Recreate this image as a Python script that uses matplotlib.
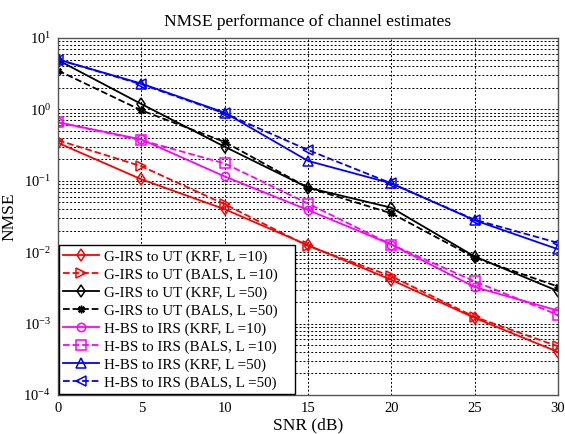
import matplotlib
matplotlib.use("Agg")
import matplotlib.pyplot as plt
import numpy as np

plt.rcParams['font.family'] = ['Liberation Serif', 'DejaVu Serif']
plt.rcParams['mathtext.fontset'] = 'custom'
plt.rcParams['mathtext.rm'] = 'Liberation Serif'
plt.rcParams['mathtext.it'] = 'Liberation Serif:italic'

snr_db = [0, 5, 10, 15, 20, 25, 30]

g_krf_l10 = [0.34, 0.105, 0.040, 0.0125, 0.0041, 0.00120, 0.00040]
g_bals_l10 = [0.37, 0.160, 0.047, 0.0122, 0.0046, 0.00124, 0.00048]
g_krf_l50 = [4.9, 1.19, 0.30, 0.080, 0.042, 0.0087, 0.00285]
g_bals_l50 = [3.5, 0.97, 0.35, 0.080, 0.035, 0.0084, 0.00330]
h_krf_l10 = [0.66, 0.38, 0.115, 0.039, 0.0128, 0.00325, 0.00152]
h_bals_l10 = [0.66, 0.37, 0.175, 0.048, 0.0128, 0.00390, 0.00132]
h_krf_l50 = [5.0, 2.30, 0.90, 0.190, 0.092, 0.0280, 0.0110]
h_bals_l50 = [5.0, 2.25, 0.88, 0.270, 0.092, 0.0285, 0.0135]

# marker: (symbol, size)
series = [
    (g_krf_l10, 'G-IRS to UT (KRF, L =10)', 'red', '-', 'd', 6.5),
    (g_bals_l10, 'G-IRS to UT (BALS, L =10)', 'red', '--', '>', 6.5),
    (g_krf_l50, 'G-IRS to UT (KRF, L =50)', 'black', '-', 'd', 6.5),
    (g_bals_l50, 'G-IRS to UT (BALS, L =50)', 'black', '--', (8, 2, 0), 5.5),
    (h_krf_l10, 'H-BS to IRS (KRF, L =10)', 'magenta', '-', 'o', 6),
    (h_bals_l10, 'H-BS to IRS (BALS, L =10)', 'magenta', '--', 's', 6.5),
    (h_krf_l50, 'H-BS to IRS (KRF, L =50)', 'blue', '-', '^', 6.5),
    (h_bals_l50, 'H-BS to IRS (BALS, L =50)', 'blue', '--', '<', 6.5),
]

fig = plt.figure(figsize=(5.65, 4.34), dpi=100)
ax = fig.add_axes([0.1027, 0.0899, 0.885, 0.8225])

for vals, label, color, ls, mk, ms in series:
    ax.semilogy(snr_db, vals, color=color, linestyle=ls, marker=mk,
                markerfacecolor='none', markeredgecolor=color,
                markersize=ms, linewidth=1.3, markeredgewidth=1.1, label=label)

ax.set_xlim(0, 30)
ax.set_ylim(1e-4, 1e1)
ax.set_xticks([0, 5, 10, 15, 20, 25, 30])
ax.set_yticks([1e-4, 1e-3, 1e-2, 1e-1, 1e0, 1e1])
ax.tick_params(axis='both', labelsize=10.5, direction='in', length=0, pad=5)
ax.grid(True, which='major', axis='both', color='black', linestyle=(0, (2, 2)), linewidth=0.7)
ax.grid(True, which='minor', axis='y', color='black', linestyle=(0, (2, 2)), linewidth=0.7)
ax.tick_params(axis='y', which='minor', length=0)
for sp in ax.spines.values():
    sp.set_color('#555555')
    sp.set_linewidth(1.0)

ax.set_title('NMSE performance of channel estimates', fontsize=12.5, pad=9)
ax.set_xlabel('SNR (dB)', fontsize=12.5, labelpad=2)
ax.set_ylabel('NMSE', fontsize=12.5, labelpad=4)

leg = ax.legend(loc='lower left', bbox_to_anchor=(0.0, 0.0, 0.476, 0.4), mode='expand',
                fontsize=10.8, labelspacing=0.29, handlelength=2.4,
                handletextpad=0.3, borderaxespad=0.05, borderpad=0.3,
                fancybox=False, framealpha=1, edgecolor='black')
leg.get_frame().set_linewidth(1.0)

fig.savefig('out.png', dpi=100)
